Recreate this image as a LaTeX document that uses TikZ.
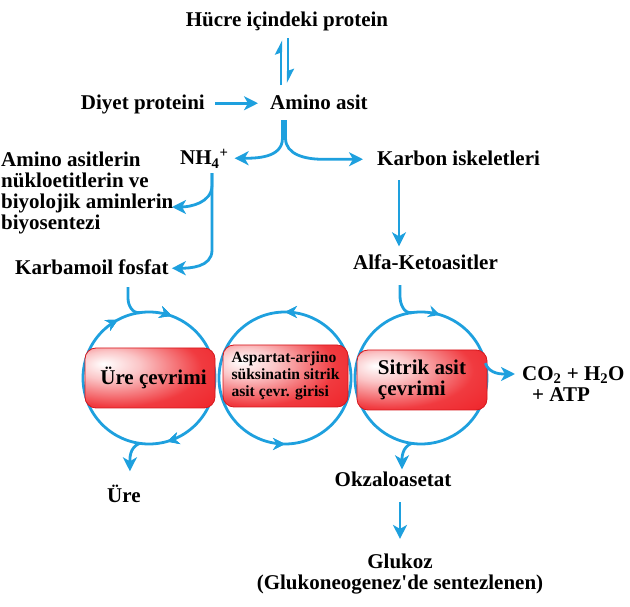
\documentclass[tikz,border=0pt]{standalone}
\usepackage{fontspec}
\setmainfont{Liberation Serif}
\usetikzlibrary{arrows.meta, calc, decorations.markings}
\definecolor{myBlue}{RGB}{30,160,222}
\definecolor{myRed}{RGB}{238,24,30}
\colorlet{mEdge}{myRed!90!black}
\pgfdeclareradialshading{glossy}{\pgfpoint{-18bp}{12bp}}{color(0bp)=(white); color(12bp)=(myRed!25); color(32bp)=(myRed!85); color(55bp)=(myRed); color(100bp)=(myRed)}

\begin{document}
\begin{tikzpicture}[
  x=1pt, y=1pt,
  txt/.style={font=\fontsize{21}{21.3}\selectfont\bfseries, inner sep=0pt, align=left},
  lbl/.style={txt, text height=13.5pt, text depth=0pt},
  flow/.style={draw=myBlue, line width=2.8pt, -{Stealth[length=14pt, width=14pt, inset=4pt]}},
  harp/.style={draw=myBlue, line width=2.4pt, -{Stealth[harpoon, length=12pt, width=12pt, inset=2pt]}},
  ring/.style={draw=myBlue, color=myBlue, line width=2.8pt},
  loopbox/.style={draw=mEdge, line width=0.8pt, rounded corners=11pt, shading=glossy,
    minimum width=130pt, minimum height=60pt, inner sep=2pt, align=left, text=black},
  cw/.style={postaction={decorate}, decoration={markings,
    mark=at position #1 with {\arrowreversed{Stealth[length=12pt, width=12pt, inset=4pt]}}}},
  ccw/.style={postaction={decorate}, decoration={markings,
    mark=at position #1 with {\arrow{Stealth[length=12pt, width=12pt, inset=4pt]}}}},
]
  \useasboundingbox (0,0) rectangle (630,606);

  \node[lbl, anchor=base] (hucre) at (287,579) {Hücre içindeki protein};
  \node[lbl, anchor=base west] (amino) at (270,496) {Amino asit};
  \node[lbl, anchor=base east] (diyet) at (205,496) {Diyet proteini};
  \node[lbl, anchor=base west] (nh) at (180,441) {NH\textsubscript{4}\textsuperscript{+}};
  \node[lbl, anchor=base west] (karbon) at (377,440) {Karbon iskeletleri};
  \node[txt, anchor=base west] (bio) at (1,376)
    {Amino asitlerin\\ nükloetitlerin ve\\ biyolojik aminlerin\\ biyosentezi};
  \node[lbl, anchor=base west] (karbamoil) at (15,331) {Karbamoil fosfat};
  \node[lbl, anchor=base west] (alfa) at (353,336) {Alfa-Ketoasitler};

  \coordinate (c1) at (149,228);
  \coordinate (c2) at (285,228);
  \coordinate (c3) at (421,228);
  \draw[ring, cw=0.328, cw=0.194, cw=0.794] (c1) circle[radius=66];
  \draw[ring, ccw=0.25, ccw=0.75] (c2) circle[radius=66];
  \draw[ring, cw=0.203] (c3) circle[radius=66];

  \node[loopbox, font=\fontsize{21}{21}\selectfont\bfseries] (ureBox) at (150,228)
    {\hspace*{7pt}Üre çevrimi};
  \node[loopbox, minimum width=125pt, minimum height=62pt,
    font=\fontsize{15.6}{16.8}\selectfont\bfseries] (aspBox) at (285.5,230)
    {Aspartat-arjino\\ süksinatin sitrik\\ asit çevr. girisi};
  \node[loopbox, font=\fontsize{21}{20.5}\selectfont\bfseries] (sitBox) at (422,226)
    {Sitrik asit\\ çevrimi};

  \node[txt, anchor=base west] (co2) at (522,204)
    {CO\textsubscript{2} + H\textsubscript{2}O\\ \hspace*{10pt}+ ATP};
  \node[lbl, anchor=base] (okza) at (393,119) {Okzaloasetat};
  \node[lbl, anchor=base west] (ure) at (107,103) {Üre};
  \node[txt, align=center, anchor=base] (gluk) at (400,17)
    {Glukoz\\[-1pt] (Glukoneogenez\textquotesingle de sentezlenen)};

  \coordinate (split) at ($(amino.south west)+(14,-10)$);
  \coordinate (bioTip) at ($(bio.base west)+(171,23)$);

  \draw[harp] ([shift={(-6,-58)}]hucre.south) -- ([shift={(-6,-13)}]hucre.south);
  \draw[harp] ([shift={(1,-11)}]hucre.south) -- ([shift={(1,-56)}]hucre.south);
  \draw[flow] ([xshift=10]diyet.east) -- ([xshift=-12]amino.west);
  \draw[flow] ([xshift=-1.5]split) -- ++(0,-18) to[out=-90, in=0] ([xshift=6]nh.east);
  \draw[flow] ([xshift=1.5]split) -- ++(0,-18) to[out=-90, in=180]
    ($(karbon.west)+(-55,0)$) -- ([xshift=-14]karbon.west);
  \draw[flow] ([shift={(32,-8)}]nh.south west) -- ++(0,-12) to[out=-90, in=0] (bioTip);
  \draw[flow] ([shift={(32,-8)}]nh.south west) -- ++(0,-77) to[out=-90, in=0] ([xshift=3]karbamoil.east);
  \draw[flow] ([shift={(22,-14)}]karbon.south west) -- ([shift={(46,10)}]alfa.north west);

  \draw[ring] ([shift={(113,-12)}]karbamoil.south west) -- ++(0,-11) to[out=-90, in=188] ($(c1)+(98:66)$);
  \draw[flow] ($(c1)+(-98:66)$) to[out=200, in=90] ([shift={(6,18)}]ure.north);
  \draw[ring] ([shift={(47,-15)}]alfa.south west) -- ++(0,-11) to[out=-90, in=188] ($(c3)+(98:66)$);
  \draw[flow] ($(c3)+(13:66)$) to[out=-70, in=180] ([shift={(-7,28)}]co2.base west);
  \draw[flow] ($(c3)+(-98:66)$) to[out=200, in=90] ([shift={(9,4)}]okza.north);
  \draw[flow] ([shift={(7,-15)}]okza.south) -- ([yshift=15]gluk.north);
\end{tikzpicture}
\end{document}
